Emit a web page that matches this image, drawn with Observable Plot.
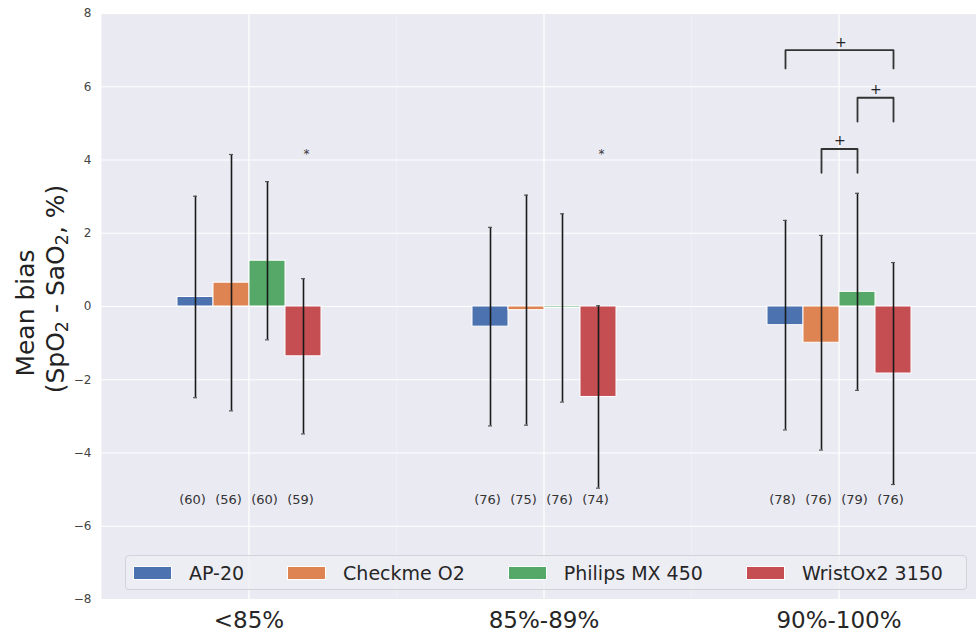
<!DOCTYPE html>
<html>
<head>
<meta charset="utf-8">
<script src="https://cdn.jsdelivr.net/npm/d3@7"></script>
<script src="https://cdn.jsdelivr.net/npm/@observablehq/plot@0.6"></script>
<style>
  html, body { margin: 0; padding: 0; background: white; }
  #wrap { position: relative; width: 976px; height: 633px; overflow: hidden; font-family: "DejaVu Sans", sans-serif; }
  #wrap svg { position: absolute; left: 0; top: 0; }
  .ylab { position: absolute; white-space: nowrap; font-size: 25px; color: #222; transform: translate(-50%, -50%) rotate(-90deg); }
  .ylab sub { font-size: 0.7em; vertical-align: -0.25em; line-height: 0; }
  #legend { position: absolute; left: 125px; top: 555px; width: 833px; height: 33px; border: 1px solid #d2d2da; border-radius: 4px;
            background: rgba(238,238,244,0.8); display: flex; align-items: center; padding-left: 7px; box-sizing: content-box; }
  #legend .item { display: flex; align-items: center; margin-right: 43px; flex-shrink: 0; white-space: nowrap; }
  #legend .sw { width: 39px; height: 14px; margin-right: 17px; box-sizing: border-box; border: 1px solid white; flex-shrink: 0; }
  #legend .tx { font-size: 19px; color: #262626; white-space: nowrap; }
</style>
</head>
<body>
<div id="wrap"></div>
<script>
// ---- data ----
const groups = ["<85%", "85%-89%", "90%-100%"];
const devices = ["AP-20", "Checkme O2", "Philips MX 450", "WristOx2 3150"];
const colors = ["#4c72b0", "#dd8452", "#55a868", "#c44e52"];

const meanLt85 = [0.26, 0.65, 1.25, -1.36];
const mean85to89 = [-0.55, -0.10, -0.04, -2.47];
const mean90to100 = [-0.51, -0.99, 0.40, -1.83];

const sdLt85 = [2.75, 3.50, 2.16, 2.12];
const sd85to89 = [2.71, 3.14, 2.57, 2.49];
const sd90to100 = [2.86, 2.93, 2.69, 3.03];

const nLt85 = [60, 56, 60, 59];
const n85to89 = [76, 75, 76, 74];
const n90to100 = [78, 76, 79, 76];

const yTicks = [-8, -6, -4, -2, 0, 2, 4, 6, 8];

// significance markers
const starGroups = ["<85%", "85%-89%"];
const starDevice = "WristOx2 3150";
const starLevel = 4.2;

const bracketGroup = "90%-100%";
const bracketFrom = ["AP-20", "Philips MX 450", "Checkme O2"];
const bracketTo = ["WristOx2 3150", "WristOx2 3150", "Philips MX 450"];
const bracketTop = [7.0, 5.7, 4.3];
const bracketBottom = [6.5, 5.05, 3.65];
const bracketLabel = ["+", "+", "+"];

// ---- build tables ----
const means = [meanLt85, mean85to89, mean90to100];
const sds = [sdLt85, sd85to89, sd90to100];
const ns = [nLt85, n85to89, n90to100];
const rows = [];
groups.forEach((g, gi) => devices.forEach((d, di) => {
  rows.push({group: g, device: d, mean: means[gi][di], sd: sds[gi][di], n: ns[gi][di]});
}));
const stars = starGroups.map(g => ({group: g, device: starDevice, y: starLevel}));
const brackets = bracketFrom.map((f, i) => ({id: i, group: bracketGroup, from: f, to: bracketTo[i], top: bracketTop[i], bottom: bracketBottom[i], label: bracketLabel[i]}));
const bracketPts = brackets.flatMap(b => [
  {id: b.id, group: b.group, device: b.from, y: b.bottom},
  {id: b.id, group: b.group, device: b.from, y: b.top},
  {id: b.id, group: b.group, device: b.to, y: b.top},
  {id: b.id, group: b.group, device: b.to, y: b.bottom}
]);

// ---- layout ----
const W = 976, H = 633, mL = 100, mR = -10, mT = 13, mB = 34;
const outerPad = 2;
const step = (W - mL - mR) / groups.length / (devices.length + 2 * outerPad);

const plot = Plot.plot({
  width: W, height: H,
  marginLeft: mL, marginRight: mR, marginTop: mT, marginBottom: mB,
  style: {fontFamily: "DejaVu Sans", background: "transparent"},
  fx: {domain: groups, paddingInner: 0, paddingOuter: 0, label: null},
  x: {domain: devices, paddingInner: 0, paddingOuter: outerPad, axis: null},
  y: {domain: [-8, 8], label: null},
  color: {domain: devices, range: colors},
  marks: [
    Plot.frame({fill: "#eaeaf2", stroke: "none"}),
    Plot.gridY(yTicks, {stroke: "white", strokeOpacity: 1, strokeWidth: 1.2}),
    Plot.gridFx({stroke: "white", strokeOpacity: 1, strokeWidth: 1.2}),
    Plot.axisY(yTicks, {tickSize: 0, tickPadding: 10, fontSize: 12, fill: "#444", label: null}),
    Plot.axisFx({anchor: "bottom", tickSize: 0, tickPadding: 12, fontSize: 23, fill: "#262626", label: null}),
    Plot.barY(rows, {fx: "group", x: "device", y: "mean", fill: "device", stroke: "white", strokeWidth: 1}),
    Plot.ruleX(rows, {fx: "group", x: "device", y1: d => d.mean - d.sd, y2: d => d.mean + d.sd, stroke: "#1a1a1a", strokeWidth: 1.6}),
    Plot.tickY(rows, {fx: "group", x: "device", y: d => d.mean - d.sd, stroke: "#555", strokeWidth: 1.2, insetLeft: 16, insetRight: 16}),
    Plot.tickY(rows, {fx: "group", x: "device", y: d => d.mean + d.sd, stroke: "#555", strokeWidth: 1.2, insetLeft: 16, insetRight: 16}),
    Plot.text(rows, {fx: "group", x: "device", text: d => `(${d.n})`, frameAnchor: "bottom", dy: -96, dx: -3, fontSize: 13, fill: "#333"}),
    Plot.text(stars, {fx: "group", x: "device", y: "y", text: () => "*", fontSize: 12, fill: "#333", dx: 3, dy: 1}),
    Plot.line(bracketPts, {fx: "group", x: "device", y: "y", z: "id", stroke: "#333", strokeWidth: 1.8}),
    ...brackets.map(b => Plot.text([b], {fx: "group", x: "from", y: "top", text: "label", fontSize: 14, fill: "#222",
      dx: (devices.indexOf(b.to) - devices.indexOf(b.from)) / 2 * step, dy: -8}))
  ]
});

const wrap = document.getElementById("wrap");
wrap.appendChild(plot);

// y label (two lines)
const l1 = document.createElement("div");
l1.className = "ylab"; l1.style.left = "25px"; l1.style.top = "313px";
l1.textContent = "Mean bias";
const l2 = document.createElement("div");
l2.className = "ylab"; l2.style.left = "55px"; l2.style.top = "289px";
l2.innerHTML = "(SpO<sub>2</sub> - SaO<sub>2</sub>, %)";
wrap.appendChild(l1); wrap.appendChild(l2);

// legend
const lg = document.createElement("div");
lg.id = "legend";
devices.forEach((d, i) => {
  const it = document.createElement("div"); it.className = "item";
  const sw = document.createElement("div"); sw.className = "sw"; sw.style.background = colors[i];
  const tx = document.createElement("div"); tx.className = "tx"; tx.textContent = d;
  it.appendChild(sw); it.appendChild(tx); lg.appendChild(it);
});
wrap.appendChild(lg);
</script>
</body>
</html>
